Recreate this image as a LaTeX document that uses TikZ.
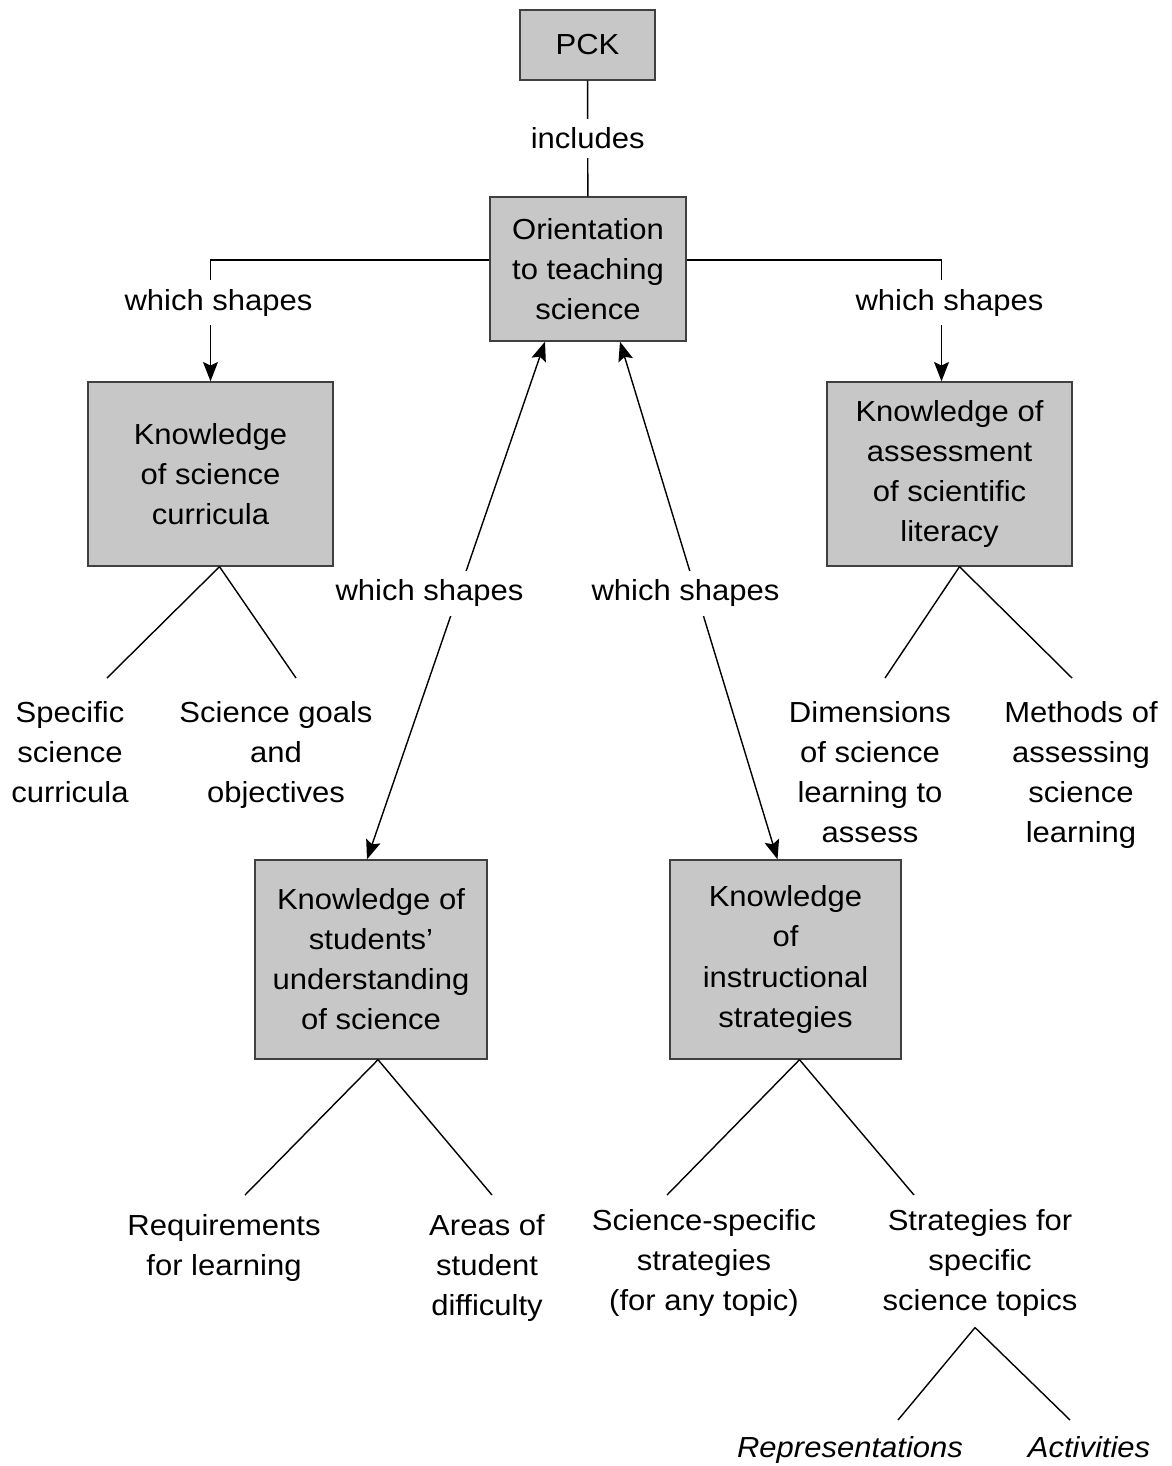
\documentclass[tikz,border=0pt]{standalone}
\usepackage{fontspec}
\setmainfont{Liberation Sans}[FakeStretch=1.07]
\usetikzlibrary{arrows.meta}
\usetikzlibrary{calc}

\begin{document}
\begin{tikzpicture}[x=0.02cm, y=-0.02cm, line width=0.8pt,
	every node/.style={font=\fontsize{16.5}{22.8}\selectfont, align=center},
	box/.style={draw=black!75, fill=black!22, inner sep=0pt},
	lbl/.style={fill=white, inner xsep=2pt, inner ysep=5pt},
	leaf/.style={anchor=north, inner sep=0pt},
	tip/.tip={Stealth[length=11pt, width=8.5pt, inset=2pt]},
	arr/.style={-tip},
	darr/.style={tip-tip}]
\useasboundingbox (0,0) rectangle (1171,1466);

\node[box, minimum width=2.7cm, minimum height=1.4cm] (pck) at (587.5,45) {PCK};
\node[box, minimum width=3.92cm, minimum height=2.88cm] (orient) at (588,269) {Orientation\\to teaching\\science};
\node[box, minimum width=4.9cm, minimum height=3.68cm] (curr) at (210.5,474) {Knowledge\\of science\\curricula};
\node[box, minimum width=4.9cm, minimum height=3.68cm] (assess) at (949.5,474) {Knowledge of\\assessment\\of scientific\\literacy};
\node[box, minimum width=4.64cm, minimum height=3.98cm] (stud) at (371,959.5) {Knowledge of\\students’\\understanding\\of science};
\node[box, minimum width=4.62cm, minimum height=3.98cm] (instr) at (785.5,959.5) {Knowledge\\of\\instructional\\strategies};

\node[leaf] (spec) at (70,701) {Specific\\science\\curricula};
\node[leaf] (goals) at (276,701) {Science goals\\and\\objectives};
\node[leaf] (dim) at (870,701) {Dimensions\\of science\\learning to\\assess};
\node[leaf] (meth) at (1081,701) {Methods of\\assessing\\science\\learning};
\node[leaf] (req) at (224,1214) {Requirements\\for learning};
\node[leaf] (areas) at (487,1214) {Areas of\\student\\difficulty};
\node[leaf] (sspec) at (704,1209) {Science-specific\\strategies\\(for any topic)};
\node[leaf] (sfor) at (980,1209) {Strategies for\\specific\\science topics};
\node[leaf, font=\fontsize{16.5}{22.8}\selectfont\itshape] (repr) at (850,1436) {Representations};
\node[leaf, font=\fontsize{16.5}{22.8}\selectfont\itshape] (act) at (1089,1436) {Activities};

\draw (pck) -- node[lbl] (incl) {includes} (orient);
\draw[arr] ($(orient.west)+(0,-9)$) -| node[lbl, pos=0.676, xshift=0.16cm] (ws1) {which shapes} (curr.north);
\draw[arr] ($(orient.east)+(0,-9)$) -| node[lbl, pos=0.676, xshift=0.16cm] (ws2) {which shapes} ($(assess.north)+(-8,0)$);
\draw[darr] ($(orient.south)+(-43,0)$) -- node[lbl, pos=0.486, xshift=-0.58cm] (ws3) {which shapes} ($(stud.north)+(-4,0)$);
\draw[darr] ($(orient.south)+(32,0)$) -- node[lbl, pos=0.486, xshift=-0.22cm] (ws4) {which shapes} ($(instr.north)+(-8,0)$);

\foreach \parent/\px/\child/\cx/\cy in {curr/9/spec/37/23, curr/9/goals/20/23, assess/10/dim/15/23, assess/10/meth/-9/23,
		stud/7/req/21/19, stud/7/areas/5/19, instr/14/sspec/-37/14, instr/14/sfor/-66/14} {
	\draw ($(\parent.south)+(\px,0)$) -- ($(\child.north)+(\cx,-\cy)$);
	};
\draw ($(sfor.south)+(-5,10)$) -- ($(repr.north)+(48,-16)$);
\draw ($(sfor.south)+(-5,10)$) -- ($(act.north)+(-19,-16)$);
\end{tikzpicture}
\end{document}
